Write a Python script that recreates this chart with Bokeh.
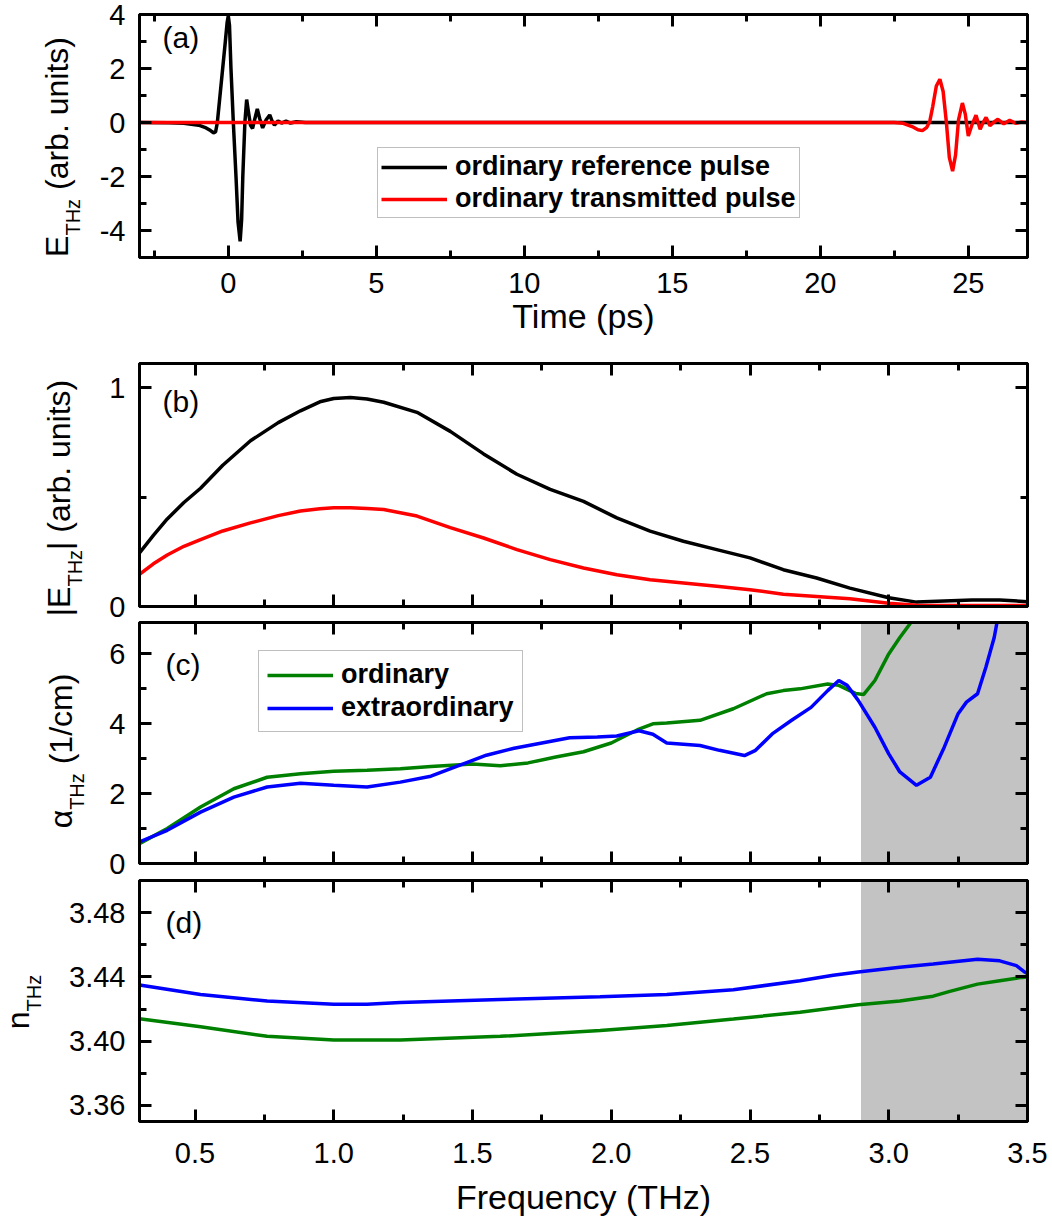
import math
from bokeh.plotting import figure
from bokeh.models import (Range1d, FixedTicker, LinearAxis, Label, Legend, LegendItem,
                          BoxAnnotation, CustomJSTickFormatter, PrintfTickFormatter)
from bokeh.core.properties import value
from bokeh.layouts import column, row
from bokeh.embed import file_html
from bokeh.resources import INLINE

FONT = "Liberation Sans"

# ---------------- data ----------------
# (a) time-domain pulses
ref_t = [-3.0, -2.0, -1.5, -1.0, -0.75, -0.6, -0.5, -0.43, -0.37, -0.28, -0.19, -0.1, -0.04, 0.0,
         0.04, 0.09, 0.17, 0.26, 0.33, 0.4, 0.45, 0.49, 0.56, 0.62, 0.68, 0.75, 0.82, 0.9, 0.98,
         1.06, 1.16, 1.28, 1.4, 1.48, 1.56, 1.68, 1.8, 1.95, 2.1, 2.3, 2.6, 3.0, 27.0]
ref_E = [0.0, -0.01, -0.03, -0.1, -0.2, -0.3, -0.38, -0.35, 0.0, 1.0, 2.0, 3.0, 3.7, 3.95,
         3.6, 2.0, 0.0, -2.0, -3.7, -4.4, -3.6, -2.0, 0.0, 0.85, 0.4, -0.1, -0.22, 0.15, 0.5,
         0.15, -0.2, 0.1, 0.28, 0.05, -0.1, 0.06, -0.02, 0.05, -0.02, 0.03, 0.0, 0.0, 0.0]
trn_t = [-3.0, 22.5, 22.8, 23.1, 23.3, 23.45, 23.6, 23.7, 23.8, 23.92, 24.04, 24.15, 24.26,
         24.36, 24.47, 24.57, 24.67, 24.8, 24.9, 25.0, 25.12, 25.26, 25.4, 25.5, 25.6, 25.73,
         25.85, 26.0, 26.2, 26.4, 26.6, 26.8, 27.0]
trn_E = [0.0, 0.0, -0.03, -0.15, -0.27, -0.3, -0.18, 0.05, 0.6, 1.35, 1.6, 1.15, 0.0,
         -1.3, -1.8, -1.2, 0.1, 0.72, 0.3, -0.5, -0.1, 0.27, -0.25, 0.0, 0.19, -0.12,
         0.0, 0.12, -0.05, 0.08, -0.03, 0.02, 0.0]

# (b) spectral amplitudes
freq_b = [0.3, 0.35, 0.4, 0.46, 0.52, 0.6, 0.7, 0.8, 0.88, 0.95, 1.0, 1.06, 1.12, 1.18, 1.3,
          1.42, 1.54, 1.66, 1.78, 1.9, 2.02, 2.14, 2.26, 2.38, 2.5, 2.62, 2.74, 2.86, 3.0,
          3.1, 3.2, 3.3, 3.4, 3.5]
ref_amp = [0.245, 0.325, 0.40, 0.475, 0.54, 0.645, 0.757, 0.84, 0.894, 0.935, 0.95, 0.955,
           0.948, 0.933, 0.887, 0.80, 0.697, 0.604, 0.535, 0.48, 0.405, 0.344, 0.298, 0.26,
           0.222, 0.168, 0.13, 0.084, 0.04, 0.02, 0.025, 0.03, 0.03, 0.022]
trn_amp = [0.147, 0.195, 0.235, 0.275, 0.306, 0.345, 0.382, 0.415, 0.436, 0.447, 0.451, 0.451,
           0.448, 0.443, 0.413, 0.36, 0.313, 0.26, 0.214, 0.176, 0.145, 0.122, 0.107, 0.092,
           0.077, 0.056, 0.046, 0.035, 0.015, 0.006, 0.004, 0.004, 0.004, 0.004]

# (c) absorption coefficient
freq_co = [0.3, 0.4, 0.52, 0.64, 0.76, 0.88, 1.0, 1.12, 1.24, 1.35, 1.5, 1.6, 1.7, 1.8, 1.9,
           2.0, 2.1, 2.15, 2.2, 2.32, 2.44, 2.56, 2.62, 2.68, 2.78, 2.82, 2.88, 2.91, 2.95,
           3.0, 3.04, 3.08]
alpha_o = [0.57, 1.0, 1.62, 2.14, 2.47, 2.57, 2.64, 2.67, 2.71, 2.78, 2.85, 2.8, 2.88, 3.05,
           3.2, 3.45, 3.85, 4.0, 4.02, 4.1, 4.43, 4.86, 4.95, 5.0, 5.14, 5.1, 4.87, 4.84, 5.24,
           6.0, 6.47, 6.9]
freq_ce = [0.3, 0.4, 0.52, 0.64, 0.76, 0.88, 1.0, 1.12, 1.24, 1.35, 1.45, 1.55, 1.65, 1.75,
           1.85, 1.95, 2.02, 2.1, 2.15, 2.2, 2.32, 2.39, 2.48, 2.52, 2.58, 2.65, 2.72, 2.78,
           2.82, 2.85, 2.89, 2.95, 3.0, 3.04, 3.1, 3.15, 3.2, 3.25, 3.28, 3.32, 3.35, 3.38, 3.39]
alpha_e = [0.62, 0.95, 1.47, 1.9, 2.19, 2.3, 2.24, 2.19, 2.33, 2.5, 2.8, 3.1, 3.3, 3.45, 3.6,
           3.62, 3.65, 3.8, 3.7, 3.45, 3.38, 3.24, 3.09, 3.24, 3.71, 4.1, 4.47, 4.95, 5.24,
           5.1, 4.67, 3.9, 3.14, 2.62, 2.24, 2.47, 3.33, 4.29, 4.62, 4.86, 5.62, 6.47, 6.9]

# (d) refractive index
freq_do = [0.3, 0.52, 0.76, 1.0, 1.24, 1.6, 1.96, 2.2, 2.44, 2.68, 2.89, 3.04, 3.16, 3.22,
           3.32, 3.4, 3.48, 3.5]
n_o = [3.414, 3.409, 3.403, 3.4008, 3.4008, 3.403, 3.4066, 3.4097, 3.4138, 3.418, 3.4227,
       3.425, 3.428, 3.431, 3.4355, 3.4376, 3.4397, 3.44]
freq_de = [0.3, 0.52, 0.76, 1.0, 1.12, 1.24, 1.6, 1.96, 2.2, 2.44, 2.68, 2.8, 2.89, 3.04,
           3.16, 3.32, 3.4, 3.46, 3.49, 3.5]
n_e = [3.435, 3.429, 3.425, 3.423, 3.423, 3.424, 3.426, 3.4277, 3.429, 3.432, 3.4376, 3.441,
       3.443, 3.446, 3.448, 3.451, 3.45, 3.447, 3.443, 3.442]

shade_from, shade_to = 2.9, 3.5

# ticks
time_ticks = [0, 5, 10, 15, 20, 25]
time_minor = [-2.5, 2.5, 7.5, 12.5, 17.5, 22.5]
e_ticks = [-4, -2, 0, 2, 4]
e_minor = [-5, -3, -1, 1, 3]
freq_ticks = [0.5, 1.0, 1.5, 2.0, 2.5, 3.0, 3.5]
freq_minor = [0.75, 1.25, 1.75, 2.25, 2.75, 3.25]
amp_ticks = [0, 1]
amp_minor = [0.5]
alpha_ticks = [0, 2, 4, 6]
alpha_minor = [1, 3, 5]
n_ticks = [3.36, 3.40, 3.44, 3.48]
n_minor = [3.38, 3.42, 3.46]

# ---------------- helpers ----------------
WID = {' ': 278, '(': 333, ')': 333, '.': 278, '/': 278, '|': 260, 'a': 556, 'b': 556,
       'c': 500, 'm': 833, 'n': 556, 'r': 333, 's': 500, 't': 278, 'u': 556, 'i': 222,
       'z': 500, 'E': 667, 'T': 611, 'H': 722, '1': 556, 'α': 578}

TICK_FS = "29px"
AXLAB_FS = "34px"
BASE_SHIFT = 0.46   # measured offset of the rendered baseline, in em


def tw(s, size):
    return sum(WID.get(ch, 556) for ch in s) / 1000.0 * size


def style_axis(ax, ticks, minor, labels=True, fmt="%d", standoff=10):
    ax.ticker = FixedTicker(ticks=ticks, minor_ticks=minor)
    ax.axis_line_width = 3
    ax.axis_line_color = "black"
    ax.major_tick_in = 12
    ax.major_tick_out = 0
    ax.minor_tick_in = 7
    ax.minor_tick_out = 0
    ax.major_tick_line_width = 3
    ax.minor_tick_line_width = 3
    ax.major_tick_line_color = "black"
    ax.minor_tick_line_color = "black"
    ax.major_label_text_font = FONT
    ax.major_label_text_color = "black"
    if labels:
        ax.formatter = PrintfTickFormatter(format=fmt)
        ax.major_label_text_font_size = TICK_FS
        ax.major_label_standoff = standoff
    else:
        ax.formatter = CustomJSTickFormatter(code="return ''")
        ax.major_label_text_font_size = "0px"
        ax.major_label_standoff = 0


def make_fig(w, h, top, bottom, left, xr, yr):
    p = figure(width=w, height=h, x_range=xr, y_range=yr, output_backend="svg",
               toolbar_location=None, min_border_left=left, min_border_right=25,
               min_border_top=top, min_border_bottom=bottom)
    p.grid.visible = False
    p.outline_line_color = "black"
    p.outline_line_width = 3
    p.outline_line_alpha = 1
    p.background_fill_color = "white"
    p.border_fill_color = "white"
    return p


def decorate(p, xt, xm, yt, ym, xlabels, xfmt, yfmt, xstand=10):
    style_axis(p.below[0], xt, xm, labels=xlabels, fmt=xfmt, standoff=xstand)
    style_axis(p.left[0], yt, ym, labels=True, fmt=yfmt, standoff=14)
    top_ax = LinearAxis()
    style_axis(top_ax, xt, xm, labels=False)
    p.add_layout(top_ax, "above")
    right_ax = LinearAxis()
    style_axis(right_ax, yt, ym, labels=False)
    p.add_layout(right_ax, "right")


def xlabel(ax, text, standoff):
    ax.axis_label = text
    ax.axis_label_text_font = FONT
    ax.axis_label_text_font_style = "normal"
    ax.axis_label_text_font_size = AXLAB_FS
    ax.axis_label_text_color = "black"
    ax.axis_label_standoff = standoff


def label_fig(w, h, parts, frame_top, frame_h, xb, dy=0.0):
    """A narrow blank canvas (data units = pixels) holding the rotated y-axis title."""
    f = figure(width=w, height=h, frame_width=w, frame_height=h, title=None,
               x_range=Range1d(0, w), y_range=Range1d(0, h),
               output_backend="svg", toolbar_location=None, x_axis_location=None,
               y_axis_location=None, min_border=0, min_border_left=0, min_border_right=0,
               min_border_top=0, min_border_bottom=0)
    f.grid.visible = False
    f.outline_line_color = None
    f.background_fill_color = "white"
    f.border_fill_color = "white"
    total = sum(tw(t, sz) + gap for t, sz, off, gap in parts)
    centre = h - (frame_top + frame_h / 2.0) + dy
    y = centre - total / 2.0
    for t, sz, off, gap in parts:
        y += gap
        f.text(x=[xb + off - BASE_SHIFT * sz], y=[y], text=[t], angle=math.pi / 2,
               text_font=value(FONT), text_font_size=value(f"{sz}px"), text_align="left",
               text_baseline="alphabetic", text_color="black")
        y += tw(t, sz)
    return f


def panel_tag(p, text, frame_h, x, below_top):
    p.add_layout(Label(x=x, y=frame_h - below_top + BASE_SHIFT * 22, x_units="screen",
                       y_units="screen", text=text, text_font=FONT, text_font_size="30px",
                       text_baseline="alphabetic", text_color="black"))


def legend(p, items, loc, padding, spacing):
    lg = Legend(items=items, location=loc, label_text_font=FONT, label_text_font_style="bold",
                label_text_font_size="27px", label_text_color="black", glyph_width=66,
                glyph_height=28, label_height=28, spacing=spacing, padding=padding,
                label_standoff=8, border_line_color="#808080", border_line_width=1,
                background_fill_color="white", background_fill_alpha=1, margin=0)
    p.add_layout(lg)


MS, SS, SOFF = 32, 20, 11
SP = tw(" ", MS)
FRAME_L = 139

# ---------------- panel (a) ----------------
LA, HA = 92, 349
pa = make_fig(1052 - LA, HA, 14, 92, FRAME_L - LA, Range1d(-3, 27), Range1d(-5, 4))
decorate(pa, time_ticks, time_minor, e_ticks, e_minor, True, "%d", "%d", xstand=15)
xlabel(pa.below[0], "Time (ps)", 1)
r_ref = pa.line(ref_t, ref_E, line_color="black", line_width=3.5)
r_trn = pa.line(trn_t, trn_E, line_color="#ff0000", line_width=3.5)
legend(pa, [LegendItem(label="ordinary reference pulse", renderers=[r_ref]),
            LegendItem(label="ordinary transmitted pulse", renderers=[r_trn])],
       (238, 39), 3, 1)
panel_tag(pa, "(a)", 243, 23, 33)
la = label_fig(LA, HA, [("E", MS, 0, 0), ("THz", SS, SOFF, 0), ("(arb. units)", MS, 0, SP)],
               14, 243, 71, dy=3)

# ---------------- panel (b) ----------------
fr = Range1d(0.3, 3.5)
LB, HB = 95, 272
pb = make_fig(1052 - LB, HB, 14, 15, FRAME_L - LB, fr, Range1d(0, 1.11))
decorate(pb, freq_ticks, freq_minor, amp_ticks, amp_minor, False, "%.1f", "%d")
pb.line(freq_b, ref_amp, line_color="black", line_width=3.5)
pb.line(freq_b, trn_amp, line_color="#ff0000", line_width=3.5)
panel_tag(pb, "(b)", 243, 23, 48)
lb = label_fig(LB, HB, [("|E", MS, 0, 0), ("THz", SS, SOFF, 0), ("| (arb. units)", MS, 0, 0)],
               14, 243, 73, dy=1)

# ---------------- panel (c) ----------------
LC, HC = 95, 258
pc = make_fig(1052 - LC, HC, 1, 16, FRAME_L - LC, fr, Range1d(0, 6.9))
decorate(pc, freq_ticks, freq_minor, alpha_ticks, alpha_minor, False, "%.1f", "%d")
pc.add_layout(BoxAnnotation(left=shade_from, right=shade_to, fill_color="#c3c3c3",
                            fill_alpha=1, line_alpha=0, level="underlay"))
r_o = pc.line(freq_co, alpha_o, line_color="#008000", line_width=3.5)
r_e = pc.line(freq_ce, alpha_e, line_color="#0000ff", line_width=3.5)
legend(pc, [LegendItem(label="ordinary", renderers=[r_o]),
            LegendItem(label="extraordinary", renderers=[r_e])],
       (119, 131), 8, 2)
panel_tag(pc, "(c)", 241, 26, 52)
lc = label_fig(LC, HC, [("α", MS, 0, 0), ("THz", SS, SOFF, 0), ("(1/cm)", MS, 0, SP)],
               1, 241, 75, dy=-7)

# ---------------- panel (d) ----------------
LD, HD = 55, 341
pd_ = make_fig(1052 - LD, HD, 1, 99, FRAME_L - LD, fr, Range1d(3.35, 3.50))
decorate(pd_, freq_ticks, freq_minor, n_ticks, n_minor, True, "%.1f", "%.2f", xstand=21)
xlabel(pd_.below[0], "Frequency (THz)", 12)
pd_.add_layout(BoxAnnotation(left=shade_from, right=shade_to, fill_color="#c3c3c3",
                             fill_alpha=1, line_alpha=0, level="underlay"))
pd_.line(freq_do, n_o, line_color="#008000", line_width=3.5)
pd_.line(freq_de, n_e, line_color="#0000ff", line_width=3.5)
panel_tag(pd_, "(d)", 241, 26, 52)
ld = label_fig(LD, HD, [("n", MS, 0, 0), ("THz", SS, SOFF, 0)], 1, 241, 32)

layout = column(row(la, pa, spacing=0), row(lb, pb, spacing=0),
                row(lc, pc, spacing=0), row(ld, pd_, spacing=0), spacing=0)
open("out.html", "w").write(file_html(layout, INLINE))
